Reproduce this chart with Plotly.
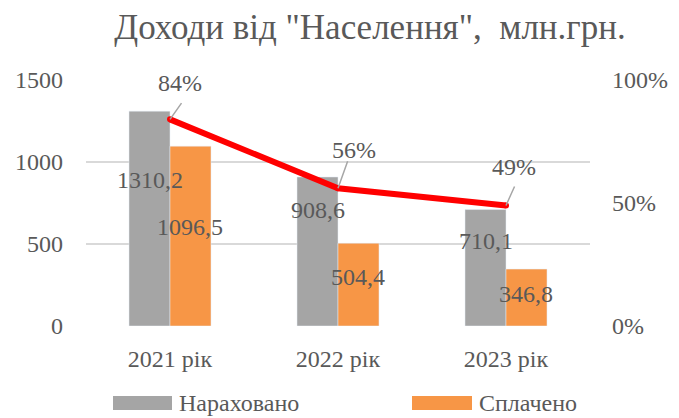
import plotly.graph_objects as go

# ---------------- data ----------------
categories = ["2021 рік", "2022 рік", "2023 рік"]
accrued = [1310.2, 908.6, 710.1]
paid = [1096.5, 504.4, 346.8]
paid_share = [0.84, 0.56, 0.49]
accrued_labels = ["1310,2", "908,6", "710,1"]
paid_labels = ["1096,5", "504,4", "346,8"]
share_labels = ["84%", "56%", "49%"]
y_ticks = [0, 500, 1000, 1500]
y2_ticks = [0, 0.5, 1.0]
y2_tick_labels = ["0%", "50%", "100%"]
series_names = ["Нараховано", "Сплачено"]
title_text = "Доходи від \"Населення\", \u00a0млн.грн."

# ---------------- style ----------------
W, H = 679, 418
OFF = 8  # page body margin of the browser
# plot area in screen pixels: x 86..590, y 80..326
ML = 86 - OFF
MT = 80 - OFF
MR = W - (590 - OFF)
MB = H - (326 - OFF)
PW, PH = W - ML - MR, H - MT - MB
FONT = "Liberation Serif"
TXT = "#595959"
GRAY = "#a5a5a5"
ORANGE = "#f79646"
RED = "#ff0000"
FS = 24

# label placement (fractions of bar height / pixel offsets)
accrued_label_frac = [0.68, 0.78, 0.73]
paid_label_frac = [0.55, 0.59, 0.56]
share_text_dx = [10, 16, 8]
share_text_dy = [36, 38, 38]
leader_ax = [12, 10, 9]
leader_ay = [-17, -28, -20]


def px_x(x):
    return (x - OFF - ML) / PW


def px_y(y):
    return (H - MB - (y - OFF)) / PH


fig = go.Figure()
fig.add_trace(go.Bar(x=categories, y=accrued, name=series_names[0],
                     marker_color=GRAY, showlegend=False))
fig.add_trace(go.Bar(x=categories, y=paid, name=series_names[1],
                     marker_color=ORANGE, showlegend=False))
fig.add_trace(go.Scatter(x=categories, y=paid_share, yaxis="y2", mode="lines+markers",
                         line=dict(color=RED, width=6), marker=dict(color=RED, size=6),
                         showlegend=False))

ann = []
half = 0.244 * PW / 3 / 2  # half of a single bar width in px
for i, c in enumerate(categories):
    ann.append(dict(x=c, y=accrued[i] * accrued_label_frac[i], xref="x", yref="y",
                    text=accrued_labels[i], showarrow=False, xshift=-half,
                    font=dict(family=FONT, size=FS, color=TXT)))
    ann.append(dict(x=c, y=paid[i] * paid_label_frac[i], xref="x", yref="y",
                    text=paid_labels[i], showarrow=False, xshift=half,
                    font=dict(family=FONT, size=FS, color=TXT)))
    ann.append(dict(x=c, y=paid_share[i], xref="x", yref="y2",
                    text=share_labels[i], showarrow=False,
                    xshift=share_text_dx[i], yshift=share_text_dy[i],
                    font=dict(family=FONT, size=FS, color=TXT)))
    ann.append(dict(x=c, y=paid_share[i], xref="x", yref="y2",
                    text=" ", showarrow=True, arrowhead=0, arrowwidth=1.5,
                    arrowcolor="#a6a6a6", ax=leader_ax[i], ay=leader_ay[i],
                    standoff=0, borderpad=0, font=dict(size=1)))

# manual legend
legend_items = [(series_names[0], GRAY, 113, 172, 177), (series_names[1], ORANGE, 412, 472, 477)]
shapes = []
for name, col, x0, x1, tx in legend_items:
    shapes.append(dict(type="rect", xref="paper", yref="paper",
                       x0=px_x(x0), x1=px_x(x1), y0=px_y(410), y1=px_y(396),
                       fillcolor=col, line=dict(width=0)))
    ann.append(dict(x=px_x(tx), y=px_y(403), xref="paper", yref="paper",
                    text=name, showarrow=False, xanchor="left", yanchor="middle",
                    font=dict(family=FONT, size=FS, color=TXT)))

fig.update_layout(
    width=W, height=H,
    margin=dict(l=ML, r=MR, t=MT, b=MB, autoexpand=False),
    paper_bgcolor="white", plot_bgcolor="white",
    font=dict(family=FONT, size=FS, color=TXT),
    title=dict(text=title_text, x=(370 - OFF) / W, xref="container", xanchor="center",
               y=1 - 19 / H, yref="container", yanchor="middle",
               font=dict(family=FONT, size=35, color=TXT)),
    barmode="group", bargap=0.512, bargroupgap=0,
    xaxis=dict(type="category", showgrid=False, zeroline=False, showline=False,
               ticks="", ticklabelstandoff=16, automargin=False,
               tickfont=dict(family=FONT, size=FS, color=TXT)),
    yaxis=dict(range=[0, 1500], tickvals=y_ticks, showgrid=True, gridcolor="#d9d9d9",
               gridwidth=1.5, zeroline=False, showline=False, ticks="", automargin=False,
               ticklabelstandoff=22, tickfont=dict(family=FONT, size=FS, color=TXT)),
    yaxis2=dict(range=[0, 1], tickvals=y2_ticks, ticktext=y2_tick_labels,
                overlaying="y", side="right", showgrid=False, zeroline=False,
                showline=False, ticks="", ticklabelstandoff=21, automargin=False,
                tickfont=dict(family=FONT, size=FS, color=TXT)),
    annotations=ann, shapes=shapes, showlegend=False,
)

fig.write_html("out.html")
